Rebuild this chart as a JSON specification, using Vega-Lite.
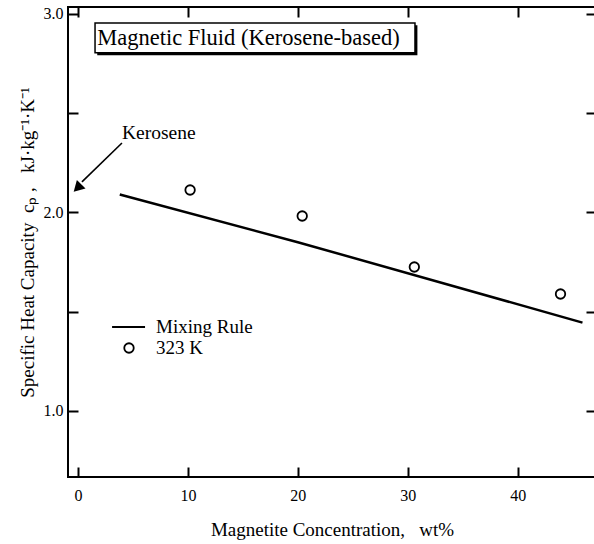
{
  "$schema": "https://vega.github.io/schema/vega-lite/v6.json",
  "width": 528,
  "height": 470,
  "autosize": {"type": "none"},
  "padding": {"left": 68, "top": 7, "right": 0, "bottom": 67},
  "background": "white",
  "config": {
    "view": {"stroke": "black", "strokeWidth": 2},
    "axis": {
      "labelFont": "Liberation Serif",
      "titleFont": "Liberation Serif",
      "domain": false,
      "grid": false,
      "tickColor": "black",
      "labelColor": "black",
      "titleColor": "black",
      "titleFontWeight": "normal"
    },
    "text": {"font": "Liberation Serif", "color": "black"}
  },
  "datasets": {
    "mix": [{"c": 3.8, "cp": 2.09}, {"c": 20, "cp": 1.85}, {"c": 45.9, "cp": 1.445}],
    "exp": [{"c": 10.2, "cp": 2.113}, {"c": 20.4, "cp": 1.982}, {"c": 30.6, "cp": 1.725}, {"c": 43.9, "cp": 1.589}],
    "kero": [{"c": -0.05, "cp": 2.123}],
    "arrow": [{"c": 4.0, "cp": 2.35, "c2": 0.36, "cp2": 2.154}],
    "kerolabel": [{"c": 4.0, "cp": 2.40, "label": "Kerosene"}],
    "boxshadow": [{"c": 1.75, "c2": 30.88, "cp": 2.943, "cp2": 2.792}],
    "box": [{"c": 1.55, "c2": 30.66, "cp": 2.955, "cp2": 2.804}],
    "boxtext": [{"c": 1.75, "cp": 2.879, "label": "Magnetic Fluid (Kerosene-based)"}],
    "legline": [{"c": 3.1, "c2": 6.1, "cp": 1.423}],
    "legpt": [{"c": 4.64, "cp": 1.317}],
    "legtext": [{"c": 7.1, "cp": 1.423, "label": "Mixing Rule"}, {"c": 7.1, "cp": 1.317, "label": "323 K"}]
  },
  "resolve": {"axis": {"x": "independent", "y": "independent"}},
  "layer": [
    {
      "data": {"name": "mix"},
      "mark": {"type": "line", "color": "black", "strokeWidth": 2.5},
      "encoding": {
        "x": {
          "field": "c", "type": "quantitative",
          "scale": {"domain": [-0.91, 47.13], "nice": false, "zero": false},
          "axis": {
            "orient": "bottom", "values": [0, 10, 20, 30, 40], "tickSize": -10, "tickWidth": 2,
            "labelFontSize": 16, "labelPadding": 20,
            "title": "Magnetite Concentration,\u00a0\u00a0\u00a0wt%", "titleFontSize": 19, "titlePadding": 17
          }
        },
        "y": {
          "field": "cp", "type": "quantitative",
          "scale": {"domain": [0.667, 3.035], "nice": false, "zero": false},
          "axis": {
            "orient": "left", "values": [1, 1.5, 2, 2.5, 3], "tickSize": -10, "tickWidth": 2,
            "labelExpr": "datum.value % 1 === 0 ? format(datum.value, '.1f') : ''",
            "labelFontSize": 16, "labelPadding": 15,
            "title": "Specific Heat Capacity\u00a0\u00a0c\u209a ,\u00a0\u00a0\u00a0kJ\u00b7kg\u207b\u00b9\u00b7K\u207b\u00b9",
            "titleFontSize": 19, "titlePadding": 6
          }
        }
      }
    },
    {
      "data": {"name": "exp"},
      "mark": {"type": "point", "shape": "circle", "size": 90, "color": "black", "filled": false, "strokeWidth": 1.8, "opacity": 1},
      "encoding": {
        "x": {"field": "c", "type": "quantitative",
          "axis": {"orient": "top", "values": [0, 10, 20, 30, 40], "tickSize": -10, "tickWidth": 2, "labels": false, "title": null}},
        "y": {"field": "cp", "type": "quantitative",
          "axis": {"orient": "right", "values": [1, 1.5, 2, 2.5, 3], "tickSize": -10, "tickWidth": 2, "labels": false, "title": null}}
      }
    },
    {
      "data": {"name": "arrow"},
      "mark": {"type": "rule", "color": "black", "strokeWidth": 1.6},
      "encoding": {
        "x": {"field": "c", "type": "quantitative", "axis": null},
        "y": {"field": "cp", "type": "quantitative", "axis": null},
        "x2": {"field": "c2"},
        "y2": {"field": "cp2"}
      }
    },
    {
      "data": {"name": "kero"},
      "mark": {"type": "point", "shape": "triangle-up", "size": 150, "angle": 225, "filled": true, "color": "black", "opacity": 1},
      "encoding": {
        "x": {"field": "c", "type": "quantitative", "axis": null},
        "y": {"field": "cp", "type": "quantitative", "axis": null}
      }
    },
    {
      "data": {"name": "kerolabel"},
      "mark": {"type": "text", "align": "left", "baseline": "middle", "fontSize": 19.5},
      "encoding": {
        "x": {"field": "c", "type": "quantitative", "axis": null},
        "y": {"field": "cp", "type": "quantitative", "axis": null},
        "text": {"field": "label"}
      }
    },
    {
      "data": {"name": "boxshadow"},
      "mark": {"type": "rect", "color": "black"},
      "encoding": {
        "x": {"field": "c", "type": "quantitative", "axis": null},
        "x2": {"field": "c2"},
        "y": {"field": "cp", "type": "quantitative", "axis": null},
        "y2": {"field": "cp2"}
      }
    },
    {
      "data": {"name": "box"},
      "mark": {"type": "rect", "fill": "white", "stroke": "black", "strokeWidth": 1.5},
      "encoding": {
        "x": {"field": "c", "type": "quantitative", "axis": null},
        "x2": {"field": "c2"},
        "y": {"field": "cp", "type": "quantitative", "axis": null},
        "y2": {"field": "cp2"}
      }
    },
    {
      "data": {"name": "boxtext"},
      "mark": {"type": "text", "align": "left", "baseline": "middle", "fontSize": 22.5},
      "encoding": {
        "x": {"field": "c", "type": "quantitative", "axis": null},
        "y": {"field": "cp", "type": "quantitative", "axis": null},
        "text": {"field": "label"}
      }
    },
    {
      "data": {"name": "legline"},
      "mark": {"type": "rule", "color": "black", "strokeWidth": 2},
      "encoding": {
        "x": {"field": "c", "type": "quantitative", "axis": null},
        "x2": {"field": "c2"},
        "y": {"field": "cp", "type": "quantitative", "axis": null}
      }
    },
    {
      "data": {"name": "legpt"},
      "mark": {"type": "point", "shape": "circle", "size": 90, "color": "black", "filled": false, "strokeWidth": 1.8, "opacity": 1},
      "encoding": {
        "x": {"field": "c", "type": "quantitative", "axis": null},
        "y": {"field": "cp", "type": "quantitative", "axis": null}
      }
    },
    {
      "data": {"name": "legtext"},
      "mark": {"type": "text", "align": "left", "baseline": "middle", "fontSize": 19},
      "encoding": {
        "x": {"field": "c", "type": "quantitative", "axis": null},
        "y": {"field": "cp", "type": "quantitative", "axis": null},
        "text": {"field": "label"}
      }
    }
  ]
}
